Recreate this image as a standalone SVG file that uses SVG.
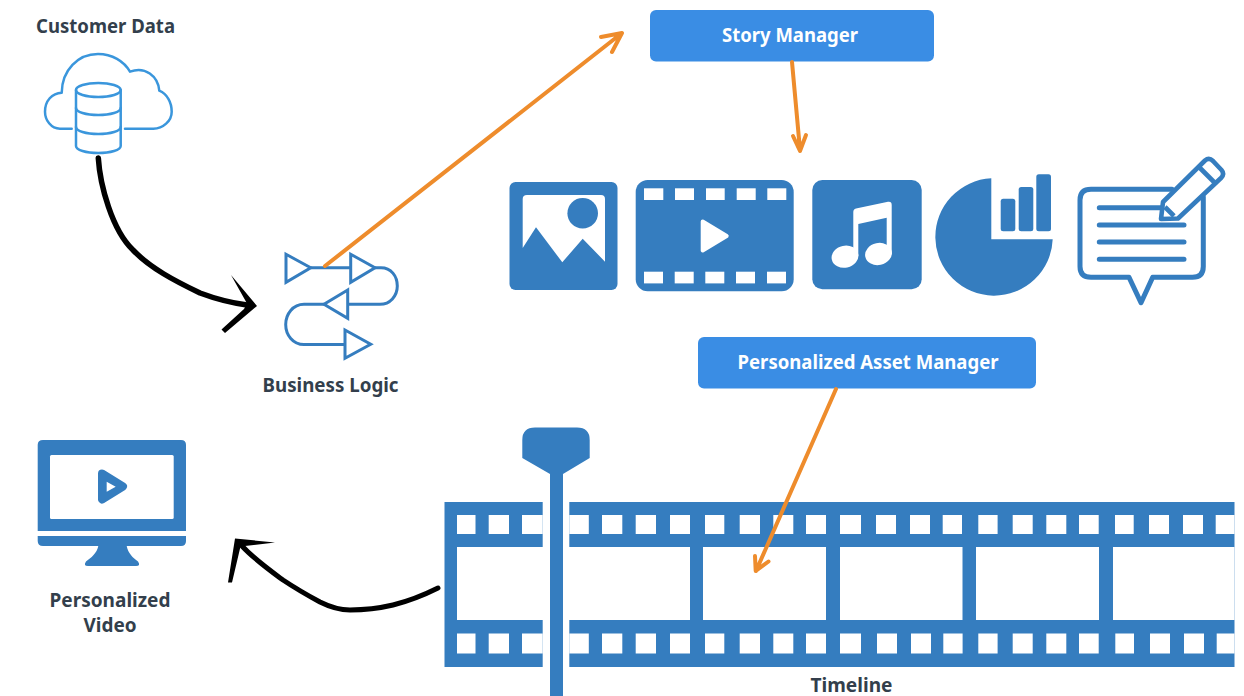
<svg xmlns="http://www.w3.org/2000/svg" width="1244" height="696" viewBox="0 0 1244 696">
<defs>
<style>
.b{fill:#357dbf}
.w{fill:#fff}
.ol{fill:none;stroke:#357dbf;stroke-width:3;stroke-linejoin:miter}
.cl{fill:none;stroke:#3a96dc;stroke-width:2.5;stroke-linecap:round;stroke-linejoin:round}
.ch{fill:none;stroke:#357dbf;stroke-width:5;stroke-linecap:round;stroke-linejoin:round}
.lab{font-family:"Noto Sans","Open Sans",sans-serif;font-weight:700;font-size:19px;fill:#333f4c;text-anchor:middle}
.btn{font-family:"Noto Sans","Open Sans",sans-serif;font-weight:700;font-size:19px;fill:#fff;text-anchor:middle}
.bb{fill:#3a8de4}
.or{fill:none;stroke:#ee8c2c;stroke-width:4;stroke-linecap:round;stroke-linejoin:round}
.bk{fill:none;stroke:#000;stroke-linecap:round;stroke-linejoin:round}
</style>
</defs>
<rect width="1244" height="696" fill="#fff"/>

<g id="customer-data">
<text class="lab" x="105.500" y="32.500" textLength="139" lengthAdjust="spacingAndGlyphs">Customer Data</text>
<path class="cl" d="M71.700 128.700H60C51 128.700 45 120 45 111.700C45 101 52 93 61.700 92.700C62 70 78 54 98 54C112 54 124 61 130 71.700C145 66 158 76 159.300 90.700C167 94 171.700 102 171.700 111.700C171.700 121 163 128.700 153.300 128.700H125"/>
<path class="cl" d="M76 90V146C76 150 86 153 98.300 153C110.500 153 120.700 150 120.700 146V90"/>
<ellipse class="cl" cx="98.300" cy="90" rx="22.300" ry="7"/>
<path class="cl" d="M76 108C76 112 86 115 98.300 115C110.500 115 120.700 112 120.700 108M76 127C76 131 86 134 98.300 134C110.500 134 120.700 131 120.700 127"/>
</g>

<g id="business-logic">
<path class="ol" d="M310.700 267.700H350.700M375 267.700H381C391 267.700 397.300 276 397.300 286C397.300 296 390 304.300 380 304.300H347.700M324 304.300H304C293 304.300 285.700 314 285.700 324.500C285.700 335 293 344.500 304 344.500H345"/>
<path class="ol" d="M286 254.300L310.700 267.700L286 282.300ZM350.700 254.300L375 267.700L350.700 282.300ZM347.700 290L324 304.300L347.700 318.300ZM345 330L370.700 344.300L345 358.300Z"/>
<text class="lab" x="330.500" y="392" textLength="136" lengthAdjust="spacingAndGlyphs">Business Logic</text>
</g>

<g id="story-manager">
<rect class="bb" x="650" y="10" width="284" height="51.500" rx="6"/>
<text class="btn" x="790" y="41.500" textLength="136" lengthAdjust="spacingAndGlyphs">Story Manager</text>
</g>

<g id="image-icon">
<rect class="b" x="509.500" y="182" width="108" height="108" rx="6"/>
<path class="w" d="M522.700 248V199Q522.700 195 527 195H601Q605 195 605 199V261.700L582.700 238.700L562.300 262.300L536 227.300Z"/>
<circle class="b" cx="582.700" cy="213.300" r="15.300"/>
</g>

<g id="video-icon">
<rect class="b" x="635.700" y="180" width="158" height="111.300" rx="12"/>
<g class="w">
<rect x="644" y="188.300" width="19.300" height="11.700"/><rect x="675" y="188.300" width="19" height="11.700"/><rect x="706" y="188.300" width="18.700" height="11.700"/><rect x="736.700" y="188.300" width="19" height="11.700"/><rect x="767.300" y="188.300" width="19" height="11.700"/>
<rect x="644" y="271.700" width="19" height="11.700"/><rect x="674.700" y="271.700" width="19" height="11.700"/><rect x="705.300" y="271.700" width="19" height="11.700"/><rect x="736" y="271.700" width="19" height="11.700"/><rect x="767" y="271.700" width="19" height="11.700"/>
</g>
<path class="w" stroke="#fff" stroke-width="4" stroke-linejoin="round" d="M702.700 221.500L726.700 236L702.700 250.500Z"/>
</g>

<g id="music-icon">
<rect class="b" x="812.300" y="180" width="109.400" height="109.300" rx="10"/>
<path class="w" d="M853.300 256V212Q853.300 209 856 208.500L888 201.800Q891.700 201.200 891.700 205V254H886.700V217.700L858.300 224V256Z"/>
<ellipse class="w" cx="845" cy="256.700" rx="13.500" ry="11" transform="rotate(-12 845 256.700)"/>
<ellipse class="w" cx="878.500" cy="254" rx="13.500" ry="11" transform="rotate(-12 878.500 254)"/>
</g>

<g id="chart-icon">
<path class="b" d="M991.300 178.300A58.700 58.700 0 1 0 1052.700 239.300H991.300Z"/>
<rect class="b" x="1000.700" y="198.700" width="14.600" height="32.600" rx="2.500"/>
<rect class="b" x="1018.700" y="187" width="14.600" height="44.300" rx="2.500"/>
<rect class="b" x="1036.300" y="174.300" width="14.700" height="57" rx="2.500"/>
</g>

<g id="note-icon">
<path class="ch" d="M1172 189.300H1091Q1080 189.300 1080 200V266.500Q1080 277.300 1091 277.300H1129L1141 302.700L1152.700 277.300H1192.500Q1203.300 277.300 1203.300 266.500V197"/>
<path class="ch" d="M1099.300 207.700H1161.700M1099.300 225H1184M1099.300 242H1184M1099.300 259.300H1184"/>
<path fill="#fff" stroke="#357dbf" stroke-width="4.600" stroke-linejoin="round" d="M1161 219L1163 202L1205 160.500Q1209 157 1213 161L1221.500 170Q1225 174 1221 178L1178 218.500Z"/>
<path fill="none" stroke="#357dbf" stroke-width="4.600" d="M1199 167L1215 183M1165 207L1174 216"/>
</g>

<g id="personalized-asset-manager">
<rect class="bb" x="698" y="337" width="338" height="51.500" rx="6"/>
<text class="btn" x="868" y="368.500" textLength="261" lengthAdjust="spacingAndGlyphs">Personalized Asset Manager</text>
</g>

<g id="personalized-video">
<path class="b" d="M37.700 531V445Q37.700 440 43 440H181Q186 440 186 445V531Z"/>
<rect class="w" x="50" y="455" width="123.700" height="64" rx="1.500"/>
<path class="b" stroke="#357dbf" stroke-width="8" stroke-linejoin="round" d="M102 473.500L123 486.500L102 499.500Z"/>
<path class="w" d="M106.700 481.700L115.700 486.700L106.700 491.700Z"/>
<path class="b" d="M37.700 536H186V541Q186 546 181 546H43Q37.700 546 37.700 541Z"/>
<path class="b" d="M98.300 546H126.700C128 553 133 558 138 561.500Q141 566 136 566H88Q83 566 86 561.500C91 558 97 553 98.300 546Z"/>
<text class="lab" x="110" y="606.500" textLength="121" lengthAdjust="spacingAndGlyphs">Personalized</text>
<text class="lab" x="110" y="631.500" textLength="53" lengthAdjust="spacingAndGlyphs">Video</text>
</g>

<g id="timeline">
<rect class="b" x="444.500" y="502" width="790" height="165"/>
<g class="w">
<rect x="457" y="547" width="233" height="73"/><rect x="703" y="547" width="123" height="73"/><rect x="840" y="547" width="122.500" height="73"/><rect x="976" y="547" width="123" height="73"/><rect x="1113" y="547" width="121.500" height="73"/>
<rect x="457" y="515" width="18.500" height="19"/><rect x="488.700" y="515" width="20.300" height="19"/><rect x="522" y="515" width="20.700" height="19"/><rect x="569.300" y="515" width="19.500" height="19"/><rect x="602" y="515" width="20.300" height="19"/><rect x="635.700" y="515" width="20.300" height="19"/><rect x="670" y="515" width="20" height="19"/><rect x="705" y="515" width="19.300" height="19"/><rect x="739.700" y="515" width="20.300" height="19"/><rect x="773.300" y="515" width="20" height="19"/><rect x="806" y="515" width="20" height="19"/><rect x="840" y="515" width="21" height="19"/><rect x="876" y="515" width="20" height="19"/><rect x="910" y="515" width="20" height="19"/><rect x="942.700" y="515" width="19.300" height="19"/><rect x="978.300" y="515" width="19.300" height="19"/><rect x="1012.700" y="515" width="20" height="19"/><rect x="1046.300" y="515" width="20" height="19"/><rect x="1079" y="515" width="19.700" height="19"/><rect x="1115" y="515" width="18.700" height="19"/><rect x="1149" y="515" width="20" height="19"/><rect x="1183" y="515" width="20" height="19"/><rect x="1215.700" y="515" width="18.800" height="19"/>
<rect x="457" y="633.500" width="18.500" height="20"/><rect x="488.700" y="633.500" width="20.300" height="20"/><rect x="522" y="633.500" width="20.700" height="20"/><rect x="569.300" y="633.500" width="19.500" height="20"/><rect x="602" y="633.500" width="20.300" height="20"/><rect x="635.700" y="633.500" width="20.300" height="20"/><rect x="670" y="633.500" width="20" height="20"/><rect x="705" y="633.500" width="19.300" height="20"/><rect x="739.700" y="633.500" width="20.300" height="20"/><rect x="773.300" y="633.500" width="20" height="20"/><rect x="806" y="633.500" width="20" height="20"/><rect x="840" y="633.500" width="21" height="20"/><rect x="877" y="633.500" width="20" height="20"/><rect x="911" y="633.500" width="20" height="20"/><rect x="943.300" y="633.500" width="19.300" height="20"/><rect x="978.300" y="633.500" width="19.300" height="20"/><rect x="1012.700" y="633.500" width="20" height="20"/><rect x="1046.300" y="633.500" width="20" height="20"/><rect x="1079" y="633.500" width="19.700" height="20"/><rect x="1115.300" y="633.500" width="18.700" height="20"/><rect x="1150" y="633.500" width="20" height="20"/><rect x="1184" y="633.500" width="20" height="20"/><rect x="1216.700" y="633.500" width="17.800" height="20"/>
<rect x="542.700" y="500" width="26.600" height="170"/>
</g>
<path class="b" d="M550 696V474L522.300 458V440Q522.300 427.500 535 427.500H577Q589.700 427.500 589.700 440V458L563 474V696Z"/>
<text class="lab" x="851.500" y="692" textLength="82" lengthAdjust="spacingAndGlyphs">Timeline</text>
</g>

<g id="connectors">
<path class="or" d="M325 266L622 33M601 37L622 33L612 52"/>
<path class="or" d="M792 62L800 150M793 136L800 151L806 135"/>
<path class="or" d="M836 389L756 571M755 556L755.700 571L768.500 561.500"/>
<path class="bk" stroke-width="5.500" d="M98.300 158C100 185 112 230 133 250C150 268 175 281 200 293C216 299 232 303 247 305"/>
<path d="M231 275L257 306L225 333L221.500 329.500L244 309L247 303.500Z" fill="#000"/>
<path class="bk" stroke-width="5" d="M438 588C420 597 405 602 393 605C376 609 362 610 350 610C338 610 328 606 320 602C307 595 295 588 283 580C268 569 254 559 242 546"/>
<path d="M275 542.500L235 538.500L228 582.500L232 582.500L240.500 546.500Z" fill="#000"/>
</g>
</svg>
